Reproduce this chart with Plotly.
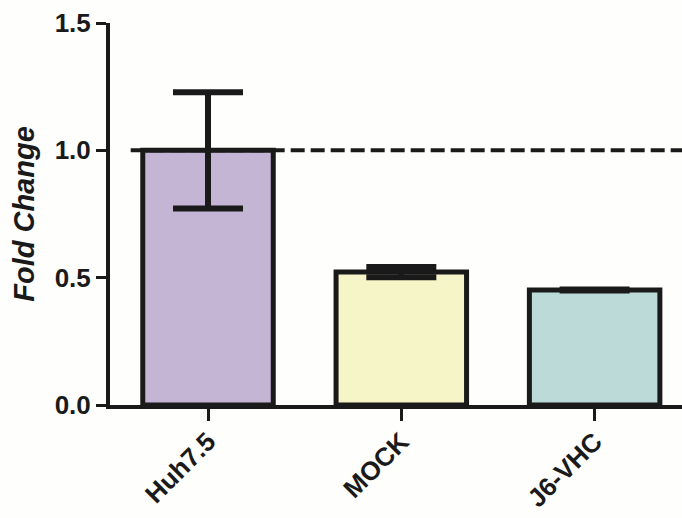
import plotly.graph_objects as go

# Relative expression per cell line
categories = ["Huh7.5", "MOCK", "J6-VHC"]
fold_change = [1.0, 0.522, 0.452]
sem = [0.228, 0.02, 0.002]
bar_colors = ["#C4B5D4", "#F5F5C7", "#BCDBD8"]
reference_level = 1.0
y_ticks = [0.0, 0.5, 1.0, 1.5]
y_tick_labels = ["0.0", "0.5", "1.0", "1.5"]

ink = "#1a1a1a"
font_family = "Liberation Sans, Arial, sans-serif"

fig = go.Figure()
fig.add_trace(go.Bar(
    x=categories,
    y=fold_change,
    width=0.675,
    marker=dict(color=bar_colors, line=dict(color=ink, width=5)),
    error_y=dict(type="data", array=sem, visible=True,
                 color=ink, thickness=6, width=35),
    showlegend=False,
))

# dashed baseline at the reference fold change
fig.add_shape(type="line", xref="x", yref="y",
              x0=-0.40, x1=2.46, y0=reference_level, y1=reference_level,
              line=dict(color=ink, width=4, dash="14px,6px"), layer="above")

fig.update_layout(
    width=682, height=518,
    margin=dict(l=110, r=0, t=23, b=113),
    paper_bgcolor="#fefefc", plot_bgcolor="#fefefc",
    font=dict(family=font_family, color=ink),
    bargap=0.3,
)
fig.update_xaxes(
    range=[-0.507, 2.452], automargin=False,
    showline=True, linecolor=ink, linewidth=4,
    ticks="outside", ticklen=12, tickwidth=3, tickcolor=ink,
    tickangle=-45, ticklabelstandoff=-5,
    tickfont=dict(size=26, family=font_family, weight="bold", color=ink),
    showgrid=False, zeroline=False, fixedrange=True,
)
fig.update_yaxes(
    range=[0, 1.5], automargin=False,
    tickvals=y_ticks, ticktext=y_tick_labels,
    showline=True, linecolor=ink, linewidth=4,
    ticks="outside", ticklen=10, tickwidth=3, tickcolor=ink,
    tickfont=dict(size=26, family=font_family, weight="bold", color=ink),
    title=dict(text="Fold Change", standoff=12,
               font=dict(size=29, family=font_family, weight="bold",
                         style="italic", color=ink)),
    showgrid=False, zeroline=False, fixedrange=True,
)

fig.write_html("out.html")
